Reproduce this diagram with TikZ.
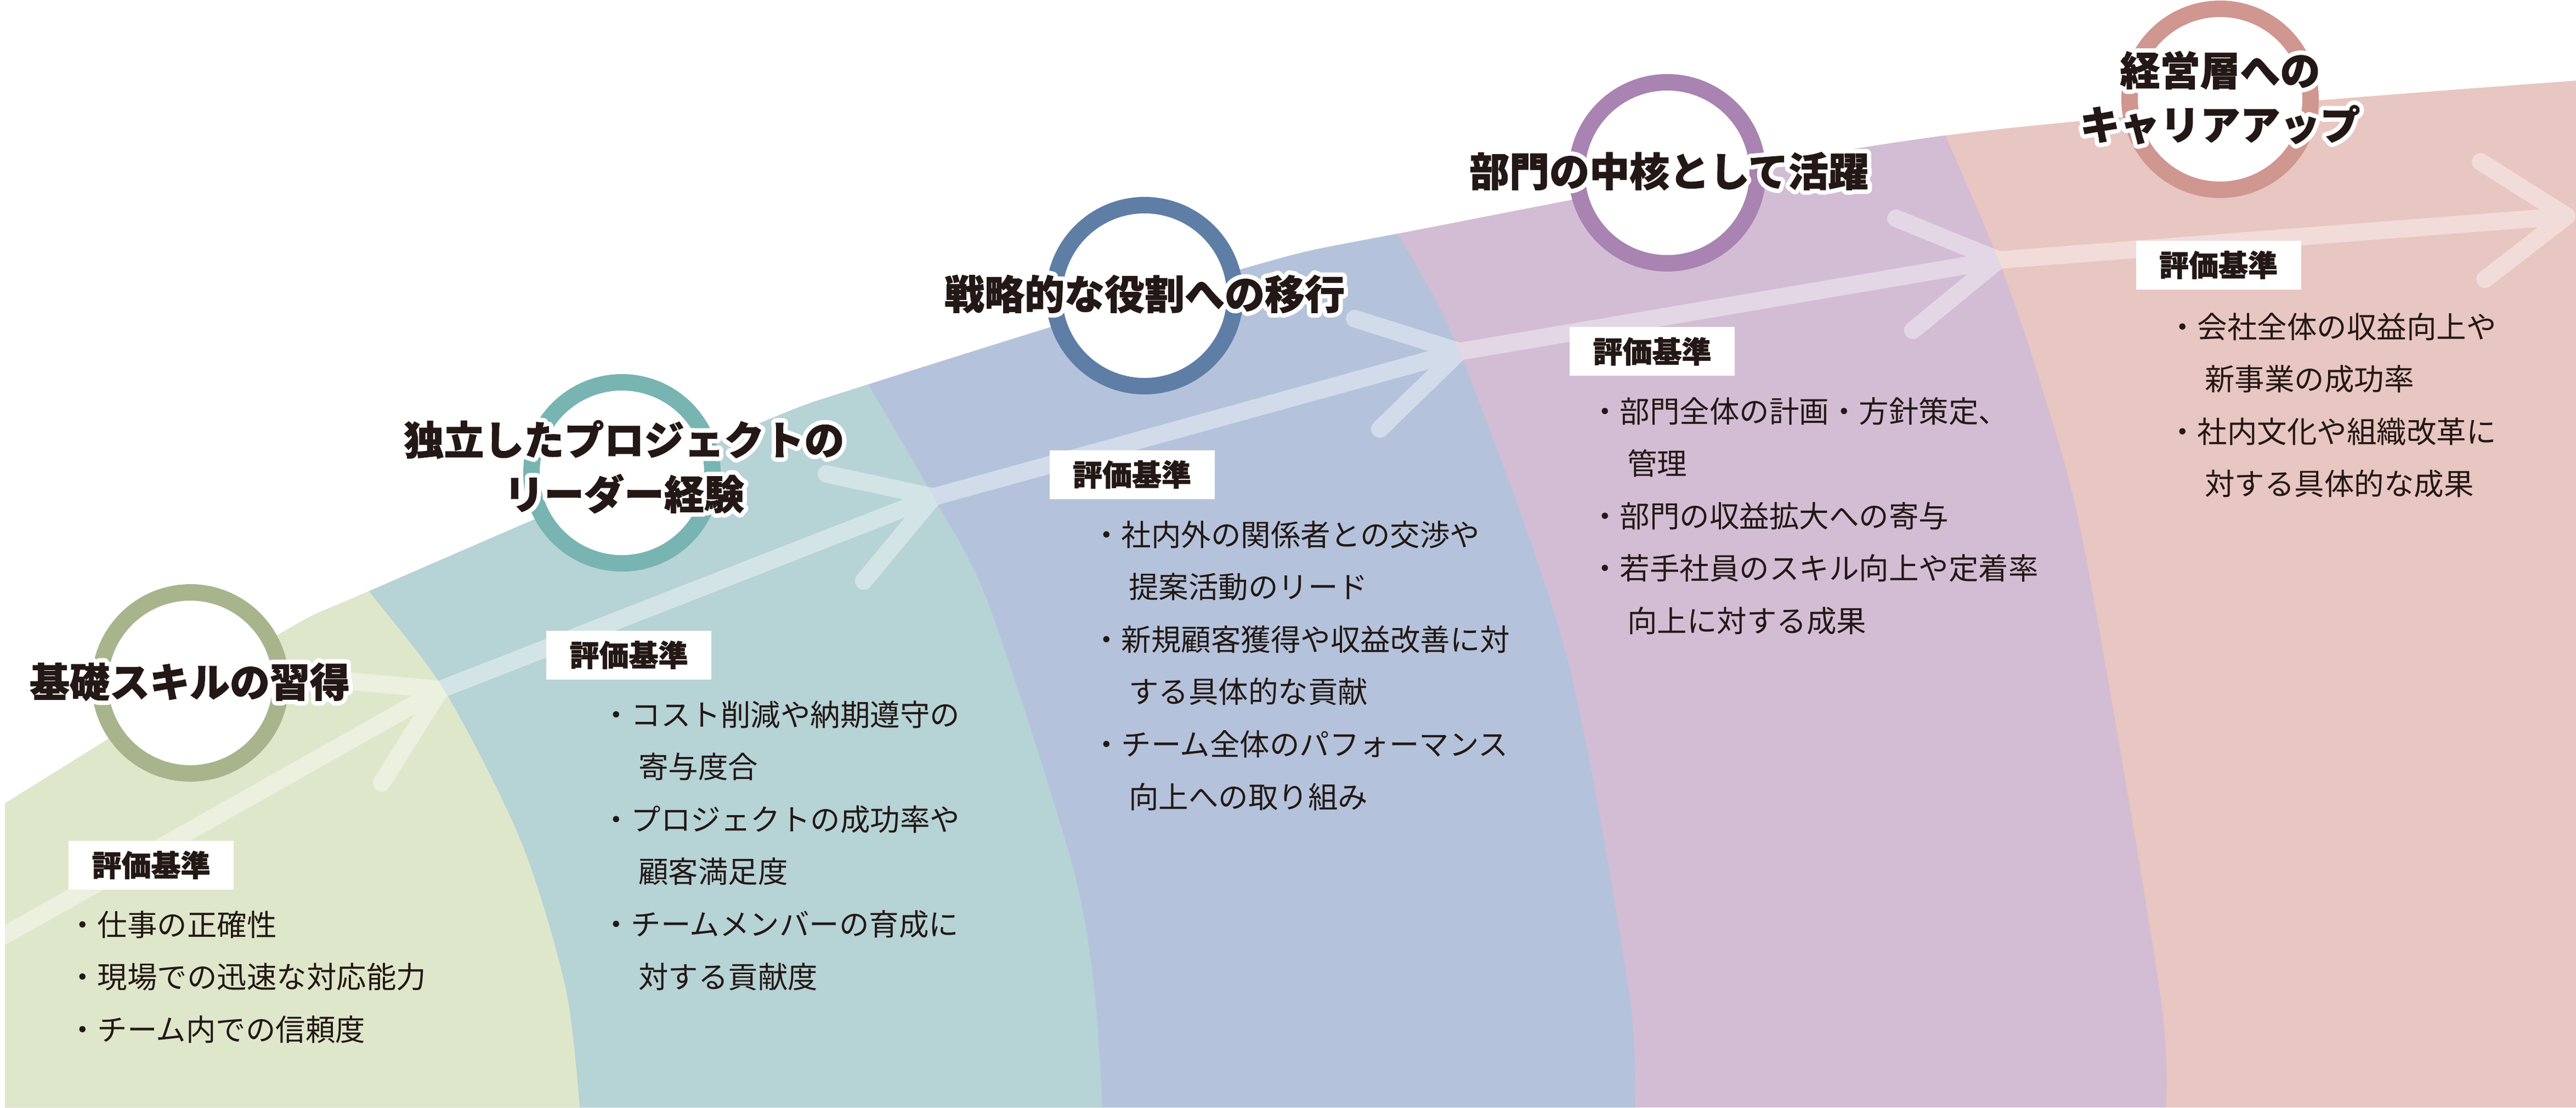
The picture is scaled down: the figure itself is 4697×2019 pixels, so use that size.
\documentclass[tikz,border=0pt]{standalone}
\usepackage{fontspec}
\newfontfamily\jp{Noto Sans CJK JP}
\newfontfamily\jpt{Noto Sans CJK JP}[BoldFeatures={FakeBold=1.2}]
\usepackage[copies]{contour}
\contournumber{40}
\contourlength{1.6pt}
\definecolor{bgreen}{HTML}{DFE7CB}
\definecolor{bteal}{HTML}{B6D3D6}
\definecolor{bblue}{HTML}{B4C3DB}
\definecolor{bpurple}{HTML}{D3BDD4}
\definecolor{bpink}{HTML}{E8C6C1}
\definecolor{rgreen}{HTML}{A8B48C}
\definecolor{rteal}{HTML}{78B4B2}
\definecolor{rblue}{HTML}{5E7EA6}
\definecolor{rpurple}{HTML}{A983B1}
\definecolor{rpink}{HTML}{D09690}
\definecolor{ink}{HTML}{231815}
\begin{document}
\begin{tikzpicture}[x=0.2pt,y=-0.2pt,
  ring/.style={circle, draw=#1, line width=6pt, fill=white, minimum size=66pt, inner sep=0pt},
  title/.style={font=\jpt\bfseries\fontsize{14.6}{19.8}\selectfont, text=ink, inner sep=0pt, align=center},
  crit/.style={fill=white, minimum width=60.2pt, minimum height=17.8pt, inner sep=0pt, font=\jpt\bfseries\fontsize{10.8}{12}\selectfont, text=ink},
  blist/.style={anchor=base west, inner sep=0pt, text width=190pt, align=left, font=\jp\fontsize{10.9}{19.12}\selectfont, text=ink},
  flow/.style={draw=white, line width=6.4pt, line cap=round, line join=round}
]
\useasboundingbox (0,0) rectangle (4697,2019);

% bands
\begin{scope}
\clip (9,2019) -- plot[smooth] coordinates {(9,1465) (505,1159) (673,1078) (1365,780) (1583,701) (2263,491) (2549,426) (3547,247) (4697,147)} -- (4697,2019) -- cycle;
\fill[bpink] (0,0) rectangle (4697,2019);
\fill[bpurple] (0,0) -- (3483,0) -- plot[smooth] coordinates {(3483,97) (3547,247) (3644,474) (3721,700) (3800,998) (3937,1800) (3949,2019)} -- (0,2019) -- cycle;
\fill[bblue] (0,0) -- (2470,0) -- plot[smooth] coordinates {(2470,276) (2549,426) (2661,641) (2855,1190) (2969,1800) (2981,2019)} -- (0,2019) -- cycle;
\fill[bteal] (0,0) -- (1493,0) -- plot[smooth] coordinates {(1493,551) (1583,701) (1702,906) (1802,1100) (1953,1569) (1995,1800) (2010,2019)} -- (0,2019) -- cycle;
\fill[bgreen] (0,0) -- (559,0) -- plot[smooth] coordinates {(559,928) (673,1078) (811,1260) (950,1534) (1031,1800) (1057,2019)} -- (0,2019) -- cycle;

% flow arrow
\coordinate (s0) at (5,1707);
\coordinate (p1) at (803,1257);
\coordinate (p2) at (1702,906);
\coordinate (p3) at (2661,641);
\coordinate (p4) at (3644,474);
\coordinate (p5) at (4680,394);
\coordinate (a1) at (639,1242); \coordinate (b1) at (696,1427);
\coordinate (a2) at (1507,864); \coordinate (b2) at (1575,1059);
\coordinate (a3) at (2470,581); \coordinate (b3) at (2516,782);
\coordinate (a4) at (3457,398); \coordinate (b4) at (3488,602);
\coordinate (a5) at (4523,295); \coordinate (b5) at (4531,509);
\begin{scope}[transparency group, opacity=0.4]
\draw[flow] (s0) -- (p1) -- (p2) -- (p3) -- (p4) -- (p5);
\draw[flow] (a1) -- (p1) -- (b1);
\draw[flow] (a2) -- (p2) -- (b2);
\draw[flow] (a3) -- (p3) -- (b3);
\draw[flow] (a4) -- (p4) -- (b4);
\draw[flow] (a5) -- (p5) -- (b5);
\end{scope}
\end{scope}

% circles
\node[ring=rgreen] (c1) at (347,1245) {};
\node[ring=rteal] (c2) at (1134,862) {};
\node[ring=rblue] (c3) at (2087,539) {};
\node[ring=rpurple] (c4) at (3040,315) {};
\node[ring=rpink] (c5) at (4048,181) {};

% criteria labels
\node[crit] (k1) at (275.5,1577) {評価基準};
\node[crit] (k2) at (1146.5,1194) {評価基準};
\node[crit] (k3) at (2064,865) {評価基準};
\node[crit] (k4) at (3012.5,640.5) {評価基準};
\node[crit] (k5) at (4045,483) {評価基準};

% lists
\node[blist] (l1) at (122,1706) {・仕事の正確性\\・現場での迅速な対応能力\\・チーム内での信頼度};
\node[blist] (l2) at (1095,1323) {・コスト削減や納期遵守の\\\hspace*{1.25em}寄与度合\\・プロジェクトの成功率や\\\hspace*{1.25em}顧客満足度\\・チームメンバーの育成に\\\hspace*{1.25em}対する貢献度};
\node[blist] (l3) at (1989,995) {・社内外の関係者との交渉や\\\hspace*{1.25em}提案活動のリード\\・新規顧客獲得や収益改善に対\\\hspace*{1.25em}する具体的な貢献\\・チーム全体のパフォーマンス\\\hspace*{1.25em}向上への取り組み};
\node[blist] (l4) at (2898,770) {・部門全体の計画・方針策定、\\\hspace*{1.25em}管理\\・部門の収益拡大への寄与\\・若手社員のスキル向上や定着率\\\hspace*{1.25em}向上に対する成果};
\node[blist] (l5) at (3951,616) {・会社全体の収益向上や\\\hspace*{1.25em}新事業の成功率\\・社内文化や組織改革に\\\hspace*{1.25em}対する具体的な成果};

% titles
\node[title] (t1) at (346,1247) {\contour{white}{基礎スキルの習得}};
\node[title] (t2) at (1138,855) {\contour{white}{独立したプロジェクトの}\\\contour{white}{リーダー経験}};
\node[title] (t3) at (2087,540) {\contour{white}{戦略的な役割への移行}};
\node[title] (t4) at (3043,316) {\contour{white}{部門の中核として活躍}};
\node[title] (t5) at (4048,182) {\contour{white}{経営層への}\\\contour{white}{キャリアアップ}};
\end{tikzpicture}
\end{document}
